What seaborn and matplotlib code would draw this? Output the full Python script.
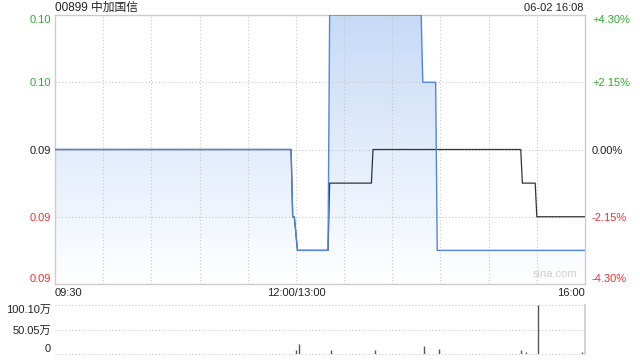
import numpy as np
import pandas as pd
import matplotlib
matplotlib.use("Agg")
import matplotlib.pyplot as plt
import seaborn as sns
from matplotlib.colors import LinearSegmentedColormap

# ---- data (trading minutes from 09:30; 150 = 12:00/13:00, 330 = 16:00) ----
title = "00899 中加国信"
stamp = "06-02 16:08"
prev_close = 0.093
price_t = [0, 147, 148, 149, 151, 170, 171, 228, 229, 237, 238, 330]
price_v = [0.093, 0.093, 0.091, 0.091, 0.090, 0.090, 0.097, 0.097, 0.095, 0.095, 0.090, 0.090]
avg_t = [0, 147, 148, 149, 151, 170, 171, 197, 198, 290, 291, 299, 300, 330]
avg_v = [0.093, 0.093, 0.091, 0.091, 0.090, 0.090, 0.092, 0.092, 0.093, 0.093, 0.092, 0.092, 0.091, 0.091]
vol_t = [150, 152, 172, 199, 230, 239, 290, 293, 301, 328]
vol_v = [8.8, 21.0, 8.8, 8.8, 17.0, 10.9, 8.8, 3.4, 100.1, 3.4]  # 万
y_ticks = [0.089, 0.091, 0.093, 0.095, 0.097]
y_labels = ["0.09", "0.09", "0.09", "0.10", "0.10"]
pct_labels = ["-4.30%", "-2.15%", "0.00%", "+2.15%", "+4.30%"]
x_ticks = [0, 150, 330]
x_labels = ["09:30", "12:00/13:00", "16:00"]
vol_ticks = [0, 50.05, 100.10]
vol_labels = ["0", "50.05万", "100.10万"]

sns.set_theme(style="white")
plt.rcParams["font.family"] = ["Liberation Sans", "Noto Sans CJK SC", "DejaVu Sans"]

GREEN = "#2eaa2e"
RED = "#f03030"
GRID = "#c8c8c8"
BORDER = "#cccccc"
BLUE = "#4f86e0"

fig = plt.figure(figsize=(6.4, 3.6), dpi=100)
ax = fig.add_axes([55 / 640, 1 - 284 / 360, 530 / 640, 269 / 360])
axv = fig.add_axes([55 / 640, 1 - 354 / 360, 530 / 640, 49 / 360])

price_df = pd.DataFrame({"t": price_t, "p": price_v})
avg_df = pd.DataFrame({"t": avg_t, "p": avg_v})

ymin, ymax = y_ticks[0], y_ticks[-1]
ax.set_xlim(0, 330)
ax.set_ylim(ymin, ymax)

# gradient fill under price line
poly = ax.fill_between(price_df["t"], price_df["p"], ymin, color="none", lw=0)
grad = np.linspace(0, 1, 256).reshape(-1, 1)
cmap = LinearSegmentedColormap.from_list("g", ["#ffffff", "#c6daf7"])
im = ax.imshow(grad, cmap=cmap, aspect="auto", origin="lower",
               extent=[0, 330, ymin, ymax], zorder=1)
im.set_clip_path(poly.get_paths()[0], transform=ax.transData)

sns.lineplot(data=avg_df, x="t", y="p", ax=ax, color="#333333", lw=0.9, zorder=3, estimator=None, sort=False)
sns.lineplot(data=price_df, x="t", y="p", ax=ax, color=BLUE, lw=1.0, zorder=4, estimator=None, sort=False)

ax.set_xticks(x_ticks)
ax.set_xticklabels(x_labels)
ax.set_yticks(y_ticks)
ax.set_yticklabels(y_labels)
ax.set_xlabel("")
ax.set_ylabel("")
ax.tick_params(axis="both", length=0, labelsize=8, colors="#222222", pad=3)
ylabs = ax.get_yticklabels()
for i, lab in enumerate(ylabs):
    lab.set_color(GREEN if y_ticks[i] > prev_close else (RED if y_ticks[i] < prev_close else "#222222"))
ylabs[0].set_va("bottom")
ylabs[-1].set_va("top")
xlabs = ax.get_xticklabels()
xlabs[0].set_ha("left")
xlabs[-1].set_ha("right")

for xv in range(30, 330, 30):
    ax.axvline(xv, color=GRID, lw=0.8, ls=(0, (1, 2)), zorder=2)
for yv in y_ticks[1:-1]:
    ax.axhline(yv, color=GRID, lw=0.8, ls=(0, (1, 2)), zorder=2)
for s in ax.spines.values():
    s.set_color(BORDER)
    s.set_linewidth(1.0)

axr = ax.twinx()
axr.set_ylim(ymin, ymax)
axr.set_yticks(y_ticks)
axr.set_yticklabels(pct_labels)
axr.tick_params(axis="y", length=0, labelsize=8, pad=5)
rl = axr.get_yticklabels()
for i, lab in enumerate(rl):
    lab.set_color(GREEN if y_ticks[i] > prev_close else (RED if y_ticks[i] < prev_close else "#222222"))
rl[0].set_va("bottom")
rl[-1].set_va("top")
for s in axr.spines.values():
    s.set_visible(False)
axr.grid(False)

ax.text(0.985, 0.02, "sina.com", transform=ax.transAxes, ha="right", va="bottom",
        fontsize=8, color="#d0d0d0", zorder=5)

# volume panel
axv.set_xlim(0, 330)
axv.set_ylim(0, 100.1)
axv.vlines(vol_t, 0, vol_v, color="#555555", lw=1.0)
axv.set_yticks(vol_ticks)
axv.set_yticklabels(vol_labels)
axv.set_xticks([])
vl = axv.get_yticklabels()
vl[0].set_va("bottom")
vl[-1].set_va("top")
axv.tick_params(axis="y", length=0, labelsize=8, colors="#222222", pad=3)
for yv in vol_ticks:
    axv.axhline(yv, color=GRID, lw=0.8, ls=(0, (1, 2)), zorder=0, clip_on=False)
for k, s in axv.spines.items():
    s.set_visible(k == "right")
axv.spines["right"].set_color(BORDER)

fig.text(55 / 640, 1 - 8 / 360, title, ha="left", va="center", fontsize=8.5, color="#222222")
fig.text(583 / 640, 1 - 8 / 360, stamp, ha="right", va="center", fontsize=8, color="#222222")

fig.savefig("out.png", dpi=100)
